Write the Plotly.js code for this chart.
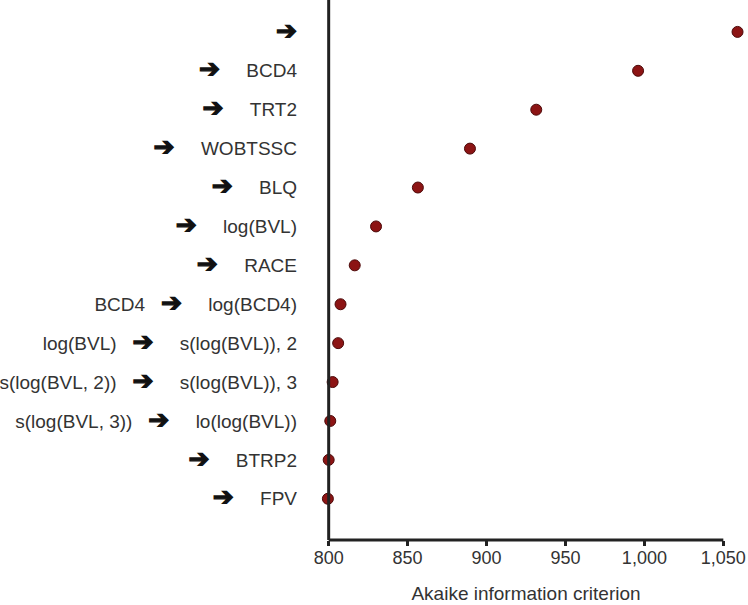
<!DOCTYPE html>
<html>
<head>
<meta charset="utf-8">
<script src="https://cdn.plot.ly/plotly-3.0.1.min.js"></script>
<style>html,body{margin:0;padding:0;background:#fff;}#chart{width:748px;height:605px;}</style>
</head>
<body>
<div id="chart"></div>
<script>
// Rows listed top to bottom
var fromLabels = ["", "", "", "", "", "", "", "BCD4", "log(BVL)", "s(log(BVL, 2))", "s(log(BVL, 3))", "", ""];
var toLabels = ["", "BCD4", "TRT2", "WOBTSSC", "BLQ", "log(BVL)", "RACE", "log(BCD4)", "s(log(BVL)), 2", "s(log(BVL)), 3", "lo(log(BVL))", "BTRP2", "FPV"];
var aicValues = [1059, 996, 931.5, 889.5, 856.5, 830, 816.5, 807.5, 806, 802.5, 801, 800, 799.5];
var xTickVals = [800, 850, 900, 950, 1000, 1050];
var xTickText = ["800", "850", "900", "950", "1,000", "1,050"];

var NB = "\u00a0";
function sp(n){ return new Array(n + 1).join(NB); }
var arrow = '<span style="font-family:\'DejaVu Sans\';font-weight:bold;font-size:25px;fill:#111;stroke:#111;stroke-width:1.3px">\u2794</span>';
var rowIdx = toLabels.map(function(_, i){ return i; });
var tickText = toLabels.map(function(t, i){
  var s = "";
  if (fromLabels[i]) s += fromLabels[i] + sp(3);
  s += arrow;
  if (t) s += sp(5) + t;
  return s;
});

var xMin = xTickVals[0], xMax = xTickVals[xTickVals.length - 1];

var trace = {
  type: "scatter",
  mode: "markers",
  x: aicValues,
  y: rowIdx,
  cliponaxis: false,
  marker: {size: 11, color: "#8c1414", line: {color: "#4d0a0a", width: 1}},
  hoverinfo: "x"
};

var layout = {
  width: 748, height: 605,
  margin: {l: 305, r: 1, t: 0, b: 65},
  paper_bgcolor: "#fff", plot_bgcolor: "#fff",
  showlegend: false,
  font: {family: "Liberation Sans, Arial, sans-serif", size: 18, color: "#333"},
  xaxis: {
    range: [785, 1065],
    tickvals: xTickVals, ticktext: xTickText,
    showgrid: false, zeroline: false, showline: false,
    ticks: "outside", ticklen: 5, tickwidth: 3, tickcolor: "#222",
    ticklabelstandoff: -4,
    tickfont: {size: 18, color: "#333"},
    title: {text: "Akaike information criterion", font: {size: 19, color: "#333"}, standoff: 20}
  },
  yaxis: {
    range: [13.06, -0.82],
    tickvals: rowIdx, ticktext: tickText,
    showgrid: false, zeroline: false, showline: false,
    ticks: "", ticklabelstandoff: 7,
    tickfont: {size: 19, color: "#333"}
  },
  shapes: [
    {type: "line", xref: "x", yref: "paper", x0: xMin, x1: xMax, y0: 0, y1: 0, line: {color: "#222", width: 3}},
    {type: "line", xref: "x", yref: "paper", x0: xMin, x1: xMin, y0: 0, y1: 1, line: {color: "#222", width: 3}}
  ]
};

Plotly.newPlot("chart", [trace], layout, {displayModeBar: false, staticPlot: true});
</script>
</body>
</html>
